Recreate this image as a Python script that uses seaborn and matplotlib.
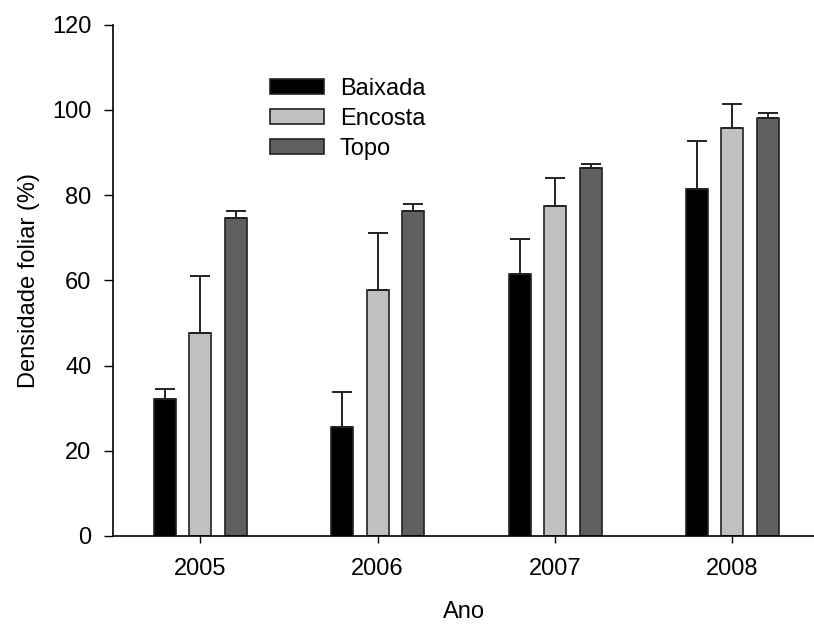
import matplotlib
matplotlib.use("Agg")
import matplotlib.pyplot as plt
import seaborn as sns
import pandas as pd

years = ["2005", "2006", "2007", "2008"]
locais = ["Baixada", "Encosta", "Topo"]
baixada = [32.1, 25.5, 61.4, 81.3]
encosta = [47.6, 57.6, 77.4, 95.7]
topo = [74.5, 76.2, 86.3, 98.1]
err_baixada = [2.5, 8.4, 8.3, 11.3]
err_encosta = [13.4, 13.6, 6.7, 5.6]
err_topo = [1.8, 1.8, 1.0, 1.1]
colors = ["#000000", "#c0c0c0", "#606060"]

values = [baixada, encosta, topo]
errors = [err_baixada, err_encosta, err_topo]

rows = []
for loc, vals in zip(locais, values):
    for y, v in zip(years, vals):
        rows.append({"Ano": y, "Local": loc, "Densidade": v})
df = pd.DataFrame(rows)

sns.set_style("ticks")
plt.rcParams["font.family"] = ["Liberation Sans", "DejaVu Sans"]
plt.rcParams["font.size"] = 17
for k in ["text.color", "axes.labelcolor", "xtick.color", "ytick.color"]:
    plt.rcParams[k] = "black"

FS = 17

fig = plt.figure(figsize=(8.14, 6.24), dpi=100)
ax = fig.add_axes([113 / 814, 1 - 536 / 624, 1 - 113 / 814, (536 - 24.5) / 624])

sns.barplot(data=df, x="Ano", y="Densidade", hue="Local", hue_order=locais,
            order=years, palette=colors, width=0.6, gap=0.38,
            edgecolor="#222222", linewidth=1.2, errorbar=None, ax=ax)

for cont, errs in zip(ax.containers, errors):
    for bar, e in zip(cont, errs):
        xc = bar.get_x() + bar.get_width() / 2
        h = bar.get_height()
        ax.errorbar([xc], [h], yerr=[[0], [e]], fmt="none", ecolor="#222222",
                    elinewidth=1.4, capsize=7.5, capthick=1.4, zorder=1)

ax.set_xlim(-0.492, 3.46)
ax.set_ylim(0, 120)
ax.set_yticks(range(0, 121, 20))
ax.set_xlabel("Ano", fontsize=FS, labelpad=15)
ax.set_ylabel("Densidade foliar (%)", fontsize=FS, labelpad=9)
ax.tick_params(axis="y", direction="out", length=6.5, width=1, labelsize=FS, pad=9)
ax.tick_params(axis="x", direction="out", length=5, width=1, labelsize=FS, pad=11)
sns.despine(ax=ax)
for s in ["left", "bottom"]:
    ax.spines[s].set_linewidth(1.2)
    ax.spines[s].set_color("black")

handles, labels = ax.get_legend_handles_labels()
ax.legend(handles, labels, loc="upper left", bbox_to_anchor=(0.224, 0.895),
          frameon=False, fontsize=FS, handlelength=2.3, handleheight=0.6,
          handletextpad=0.65, labelspacing=0.33, borderpad=0, borderaxespad=0)

fig.savefig("out.png", dpi=100)
